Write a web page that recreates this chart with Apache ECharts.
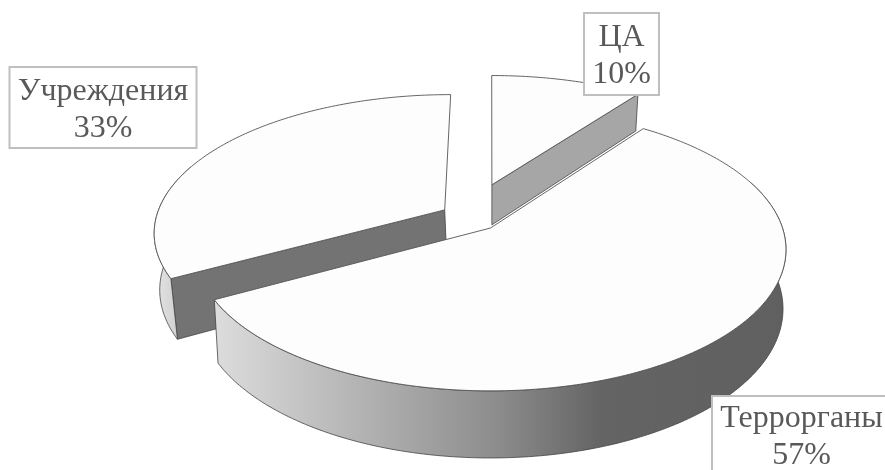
<!DOCTYPE html>
<html>
<head>
<meta charset="utf-8">
<style>html,body{margin:0;padding:0;background:#fff}#chart{width:885px;height:470px}</style>
<script src="https://cdn.jsdelivr.net/npm/echarts@6/dist/echarts.min.js"></script>
</head>
<body>
<div id="chart"></div>
<script>
// Shares of the pie, clockwise from twelve o'clock
const categories = ['ЦА', 'Террорганы', 'Учреждения'];
const shares = [10, 57, 33];

// Far slices are painted first so the nearer ones overlap them
const paintOrder = [0, 2, 1];

// Perspective view of the disc: its top and bottom faces
const topFace = { cx: 490.5, cy: 228, rx: 292, ry: 138, k: 0.1527 };
const bottomFace = { cx: 490.5, cy: 287.6, rx: 289.5, ry: 146, k: 0.143 };

// Slice offsets on the disc plane, in disc radii, for each face
const topOffset = [[0.005, 0.329], [0, 0], [-0.16, 0.134]];
const bottomOffset = [[0.005, 0.458], [0, 0], [-0.153, 0.145]];

// Label boxes
const labelBoxes = [
  { x: 584, y: 13, w: 75, h: 82 },
  { x: 712, y: 396, w: 177, h: 78, tx: 801.5 },
  { x: 9.5, y: 67, w: 187, h: 81 }
];

// Which cut edge of each slice faces the viewer, and its colour
const cutWalls = [
  { edge: 'end', color: '#a6a6a6' },
  null,
  { edge: 'start', color: '#737373' }
];

// The curved wall is only in view across this angular range
const rimVisibleFrom = 70;
const rimVisibleTo = 290;

const total = shares.reduce((a, b) => a + b, 0);

function project(face, u, v) {
  const w = 1 + face.k * v;
  return [face.cx + face.rx * u / w, face.cy - face.ry * v / w];
}

function rimPoint(face, off, deg) {
  const t = deg * Math.PI / 180;
  return project(face, off[0] + Math.sin(t), off[1] + Math.cos(t));
}

function arc(face, off, from, to) {
  const pts = [];
  const n = Math.max(8, Math.ceil(to - from));
  for (let i = 0; i <= n; i++) pts.push(rimPoint(face, off, from + (to - from) * i / n));
  return pts;
}

function poly(points, fill, stroke, lineWidth, z2) {
  return { type: 'polygon', z2, shape: { points }, style: { fill, stroke, lineWidth } };
}

const rimFill = [
  null,
  new echarts.graphic.LinearGradient(215, 0, 782, 0, [
    { offset: 0, color: '#dcdcdc' },
    { offset: 0.326, color: '#a8a8a8' },
    { offset: 0.5, color: '#8c8c8c' },
    { offset: 0.68, color: '#646464' },
    { offset: 1, color: '#606060' }
  ], true),
  new echarts.graphic.LinearGradient(155, 0, 190, 0, [
    { offset: 0, color: '#e4e4e4' },
    { offset: 1, color: '#c6c6c6' }
  ], true)
];

function renderSlice(params, api) {
  const idx = api.value(0);
  const val = api.value(1);
  let start = 0;
  for (let i = 0; i < idx; i++) start += shares[i] / total * 360;
  const end = start + val / total * 360;
  const offT = topOffset[idx];
  const offB = bottomOffset[idx];
  const base = 10 * (paintOrder.indexOf(idx) + 1);
  const stroke = '#444444';
  const children = [];

  // Wall along the cut edge that faces the viewer
  const apexT = project(topFace, offT[0], offT[1]);
  const apexB = project(bottomFace, offB[0], offB[1]);
  const cut = cutWalls[idx];
  if (cut) {
    const deg = cut.edge === 'start' ? start : end;
    children.push(poly(
      [apexT, rimPoint(topFace, offT, deg), rimPoint(bottomFace, offB, deg), apexB],
      cut.color, stroke, 0.8, base
    ));
  }

  // Curved outer wall
  const from = Math.max(start, rimVisibleFrom);
  const to = Math.min(end, rimVisibleTo);
  if (from < to) {
    const wall = arc(topFace, offT, from, to).concat(arc(bottomFace, offB, from, to).reverse());
    children.push(poly(wall, rimFill[idx], stroke, 0.8, base + 1));
  }

  // Top face
  const top = [apexT].concat(arc(topFace, offT, start, end));
  children.push(poly(top, '#fdfdfd', '#555555', 0.9, base + 2));

  // Label box with its name and percentage
  const box = labelBoxes[idx];
  children.push({
    type: 'rect', z2: 100,
    shape: { x: box.x, y: box.y, width: box.w, height: box.h },
    style: { fill: '#ffffff', stroke: '#bfbfbf', lineWidth: 2 }
  });
  children.push({
    type: 'text', z2: 101,
    style: {
      text: categories[idx] + '\n' + Math.round(val / total * 100) + '%',
      x: box.tx !== undefined ? box.tx : box.x + box.w / 2,
      y: box.y + box.h / 2 + 2.5,
      align: 'center', verticalAlign: 'middle',
      font: '32px "Liberation Serif"', lineHeight: 37, fill: '#595959'
    }
  });
  return { type: 'group', children };
}

const chart = echarts.init(document.getElementById('chart'), null, { renderer: 'canvas' });
chart.setOption({
  animation: false,
  backgroundColor: '#ffffff',
  series: [{
    type: 'custom',
    coordinateSystem: 'none',
    silent: true,
    renderItem: renderSlice,
    data: shares.map((v, i) => [i, v])
  }]
});
</script>
</body>
</html>
